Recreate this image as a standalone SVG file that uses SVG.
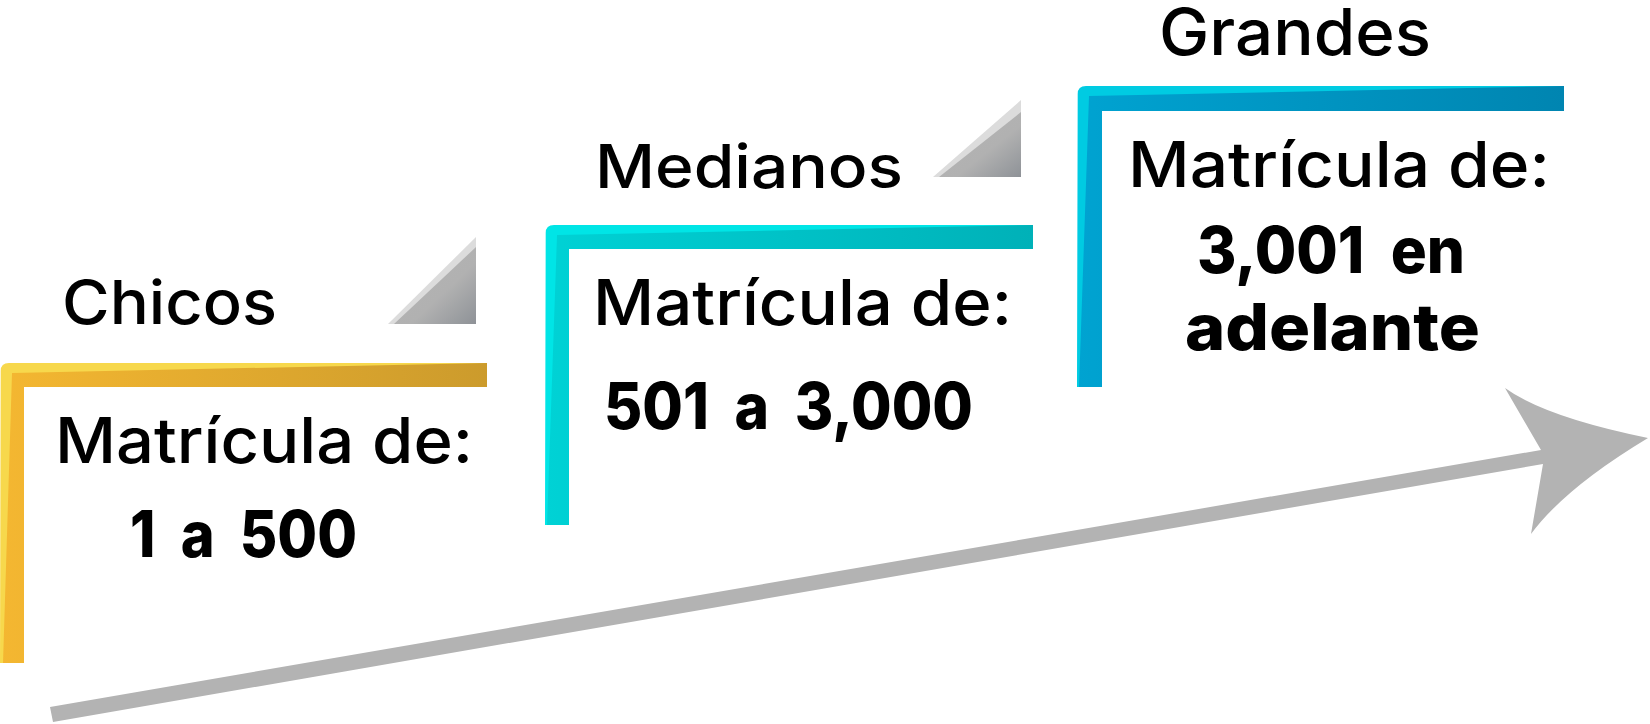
<svg xmlns="http://www.w3.org/2000/svg" width="1650" height="724" viewBox="0 0 1650 724">
  <style>
    .head { font-family: Inter, "Open Sans", "DejaVu Sans", sans-serif; font-weight: 500; fill: #000; }
    .num { font-family: Inter, "Open Sans", "DejaVu Sans", sans-serif; font-weight: 800; fill: #000; word-spacing: 14px; }
    .tri-light { fill: #dcdcdc; }
    .tri-dark { fill: url(#gTri); }
    .arrow { fill: #b3b3b3; }
  </style>
  <defs>
    <linearGradient id="gYel" gradientUnits="userSpaceOnUse" x1="0" y1="0" x2="487" y2="0">
      <stop offset="0" stop-color="#f4b731"/>
      <stop offset="1" stop-color="#cc9b2c"/>
    </linearGradient>
    <linearGradient id="gTeal" gradientUnits="userSpaceOnUse" x1="545" y1="0" x2="1033" y2="0">
      <stop offset="0" stop-color="#00d2d5"/>
      <stop offset="1" stop-color="#00b1b8"/>
    </linearGradient>
    <linearGradient id="gBlue" gradientUnits="userSpaceOnUse" x1="1077" y1="0" x2="1564" y2="0">
      <stop offset="0" stop-color="#00a3d1"/>
      <stop offset="1" stop-color="#0085b1"/>
    </linearGradient>
    <linearGradient id="gTri" x1="0" y1="0" x2="1" y2="1">
      <stop offset="0" stop-color="#b5b5b5"/>
      <stop offset="0.6" stop-color="#b1b1b1"/>
      <stop offset="1" stop-color="#8e9297"/>
    </linearGradient>
  </defs>

  <g id="node-chicos">
    <path d="M0,663 L0.7,371 Q0.7,363 9,363 L487,363 L487,387 L24,387 L24,663 Z" fill="#f7d84c"/>
    <path d="M3,663 L12,373 L487,363 L487,387 L24,387 L24,663 Z" fill="url(#gYel)"/>
    <polygon class="tri-light" points="388,324 476,237 476,324"/>
    <polygon class="tri-dark" points="394,324 476,247 476,324"/>
    <text class="head" x="62" y="324" font-size="61" textLength="215" lengthAdjust="spacingAndGlyphs">Chicos</text>
    <text class="head" x="55" y="463" font-size="63" textLength="418" lengthAdjust="spacingAndGlyphs">Matrícula de:</text>
    <text class="num" x="130" y="557" font-size="64" textLength="227" lengthAdjust="spacingAndGlyphs">1 a 500</text>
  </g>

  <g id="node-medianos">
    <path d="M545,525 L545.7,233 Q545.7,225 554,225 L1033,225 L1033,249 L569,249 L569,525 Z" fill="#00e5e6"/>
    <path d="M547,525 L557,235 L1033,225 L1033,249 L569,249 L569,525 Z" fill="url(#gTeal)"/>
    <polygon class="tri-light" points="933,177 1021,100 1021,177"/>
    <polygon class="tri-dark" points="939,177 1021,112 1021,177"/>
    <text class="head" x="595" y="188" font-size="60" textLength="308" lengthAdjust="spacingAndGlyphs">Medianos</text>
    <text class="head" x="593" y="325" font-size="63" textLength="419" lengthAdjust="spacingAndGlyphs">Matrícula de:</text>
    <text class="num" x="604" y="429" font-size="64" textLength="369" lengthAdjust="spacingAndGlyphs">501 a 3,000</text>
  </g>

  <g id="node-grandes">
    <path d="M1077,387 L1077.7,94 Q1077.7,86 1086,86 L1564,86 L1564,111 L1102,111 L1102,387 Z" fill="#00cbe2"/>
    <path d="M1079,387 L1089,96 L1564,86 L1564,111 L1102,111 L1102,387 Z" fill="url(#gBlue)"/>
    <text class="head" x="1159" y="55" font-size="64" textLength="272" lengthAdjust="spacingAndGlyphs">Grandes</text>
    <text class="head" x="1128" y="187" font-size="63" textLength="422" lengthAdjust="spacingAndGlyphs">Matrícula de:</text>
    <text class="num" x="1197" y="273" font-size="64" textLength="268" lengthAdjust="spacingAndGlyphs">3,001 en</text>
    <text class="num" x="1185" y="350" font-size="64" textLength="295" lengthAdjust="spacingAndGlyphs">adelante</text>
  </g>

  <g id="connectors">
    <path class="arrow" d="M50,707 L1541,450 L1505,388 Q1545,417 1648,438 Q1565,488 1531,534 L1543,464 L53,722 Z"/>
  </g>
</svg>
